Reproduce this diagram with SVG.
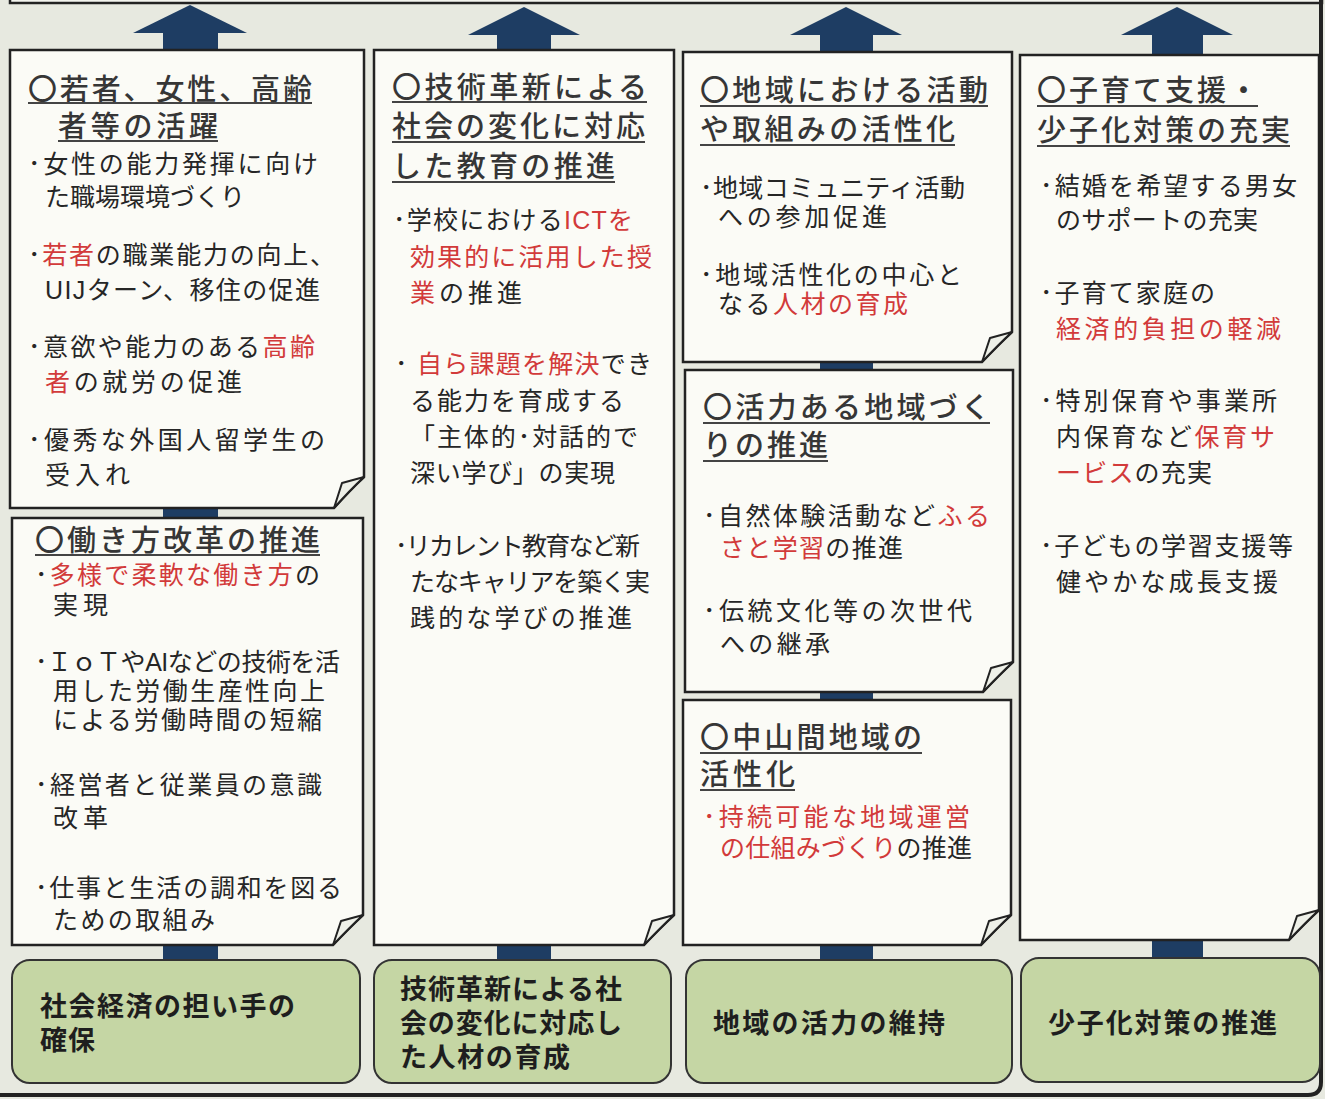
<svg xmlns="http://www.w3.org/2000/svg" width="1325" height="1099" viewBox="0 0 1325 1099">
<style>
.bg{fill:#e7e9e0}
.card{fill:#fbfbf6;stroke:#222;stroke-width:2.5;stroke-linejoin:miter}
.fold{fill:#eef0e8;stroke:#222;stroke-width:2;stroke-linejoin:round}
.green{fill:#c5d6a4;stroke:#333;stroke-width:2}
.shaft{fill:#1e3d63}
.t{font-family:"Liberation Sans","Noto Sans CJK JP",sans-serif;font-size:29px;font-weight:500;fill:#363636}
.b{font-family:"Liberation Sans","Noto Sans CJK JP",sans-serif;font-size:25px;fill:#262626}
.g{font-family:"Liberation Sans","Noto Sans CJK JP",sans-serif;font-size:27px;font-weight:700;fill:#1e1e1e}
.r{fill:#d23a3a}
.ul{stroke:#444;stroke-width:1.8}
.frame{fill:none;stroke:#222;stroke-width:4}
</style>
<rect class="bg" x="0" y="0" width="1325" height="1099"/>
<rect x="10" y="-20" width="1312" height="23" fill="#f3f4ee" stroke="#222" stroke-width="2.5"/>
<path class="frame" d="M0 1095 H1308 Q1321 1095 1321 1082 V0"/>

<g id="connectors">
  <rect class="shaft" x="163" y="30" width="55" height="932"/>
  <polygon class="shaft" points="190,5 247,33 133,33"/>
  <rect class="shaft" x="497" y="30" width="54" height="932"/>
  <polygon class="shaft" points="524,7 580,35 468,35"/>
  <rect class="shaft" x="820" y="30" width="53" height="932"/>
  <polygon class="shaft" points="846,7 902,35 790,35"/>
  <rect class="shaft" x="1152" y="30" width="51" height="932"/>
  <polygon class="shaft" points="1177,7 1233,35 1121,35"/>
</g>

<g id="card-1a">
  <path class="card" d="M10 50 H364 V477 Q350 490 334 508 H10 Z"/>
  <path class="fold" d="M364 477 L342 483 L334 508 Q350 490 364 477 Z"/>
  <text class="t"><tspan x="28" y="100" textLength="284">〇若者、女性、高齢</tspan><tspan x="58" y="137" textLength="160">者等の活躍</tspan></text>
  <line class="ul" x1="28" y1="103" x2="312" y2="103"/>
  <line class="ul" x1="58" y1="141" x2="218" y2="141"/>
  <text class="b"><tspan x="28" y="173" textLength="290">･女性の能力発揮に向け</tspan><tspan x="45" y="206" textLength="200">た職場環境づくり</tspan></text>
  <text class="b"><tspan x="28" y="264" textLength="307">･<tspan class="r">若者</tspan>の職業能力の向上、</tspan><tspan x="45" y="299" textLength="275">UIJターン、移住の促進</tspan></text>
  <text class="b"><tspan x="28" y="356" textLength="287">･意欲や能力のある<tspan class="r">高齢</tspan></tspan><tspan x="45" y="391" textLength="197"><tspan class="r">者</tspan>の就労の促進</tspan></text>
  <text class="b"><tspan x="28" y="449" textLength="297">･優秀な外国人留学生の</tspan><tspan x="45" y="484" textLength="85">受入れ</tspan></text>
</g>

<g id="card-1b">
  <path class="card" d="M12 518 H363 V915 Q349 928 333 945 H12 Z"/>
  <path class="fold" d="M363 915 L341 921 L333 945 Q349 928 363 915 Z"/>
  <text class="t" x="35" y="551" textLength="285">〇働き方改革の推進</text>
  <line class="ul" x1="35" y1="555" x2="320" y2="555"/>
  <text class="b"><tspan x="35" y="584" textLength="285">･<tspan class="r">多様で柔軟な働き方</tspan>の</tspan><tspan x="53" y="614" textLength="55">実現</tspan></text>
  <text class="b"><tspan x="35" y="671" textLength="305">･ＩｏＴやAIなどの技術を活</tspan><tspan x="53" y="700" textLength="272">用した労働生産性向上</tspan><tspan x="53" y="729" textLength="269">による労働時間の短縮</tspan></text>
  <text class="b"><tspan x="35" y="794" textLength="287">･経営者と従業員の意識</tspan><tspan x="53" y="827" textLength="55">改革</tspan></text>
  <text class="b"><tspan x="35" y="897" textLength="307">･仕事と生活の調和を図る</tspan><tspan x="53" y="929" textLength="162">ための取組み</tspan></text>
</g>

<g id="card-2">
  <path class="card" d="M374 50 H674 V915 Q660 928 644 945 H374 Z"/>
  <path class="fold" d="M674 915 L652 921 L644 945 Q660 928 674 915 Z"/>
  <text class="t"><tspan x="392" y="98" textLength="255">〇技術革新による</tspan><tspan x="392" y="137" textLength="253">社会の変化に対応</tspan><tspan x="392" y="177" textLength="223">した教育の推進</tspan></text>
  <line class="ul" x1="392" y1="102" x2="647" y2="102"/>
  <line class="ul" x1="392" y1="142" x2="645" y2="142"/>
  <line class="ul" x1="392" y1="182" x2="615" y2="182"/>
  <text class="b"><tspan x="393" y="229" textLength="240">･学校における<tspan class="r">ICTを</tspan></tspan><tspan class="r" x="410" y="266" textLength="242">効果的に活用した授</tspan><tspan x="410" y="302" textLength="112"><tspan class="r">業</tspan>の推進</tspan></text>
  <text class="b"><tspan x="395" y="373" textLength="257">･ <tspan class="r">自ら課題を解決</tspan>でき</tspan><tspan x="410" y="410" textLength="214">る能力を育成する</tspan><tspan x="410" y="446" textLength="228">「主体的･対話的で</tspan><tspan x="410" y="482" textLength="205">深い学び」の実現</tspan></text>
  <text class="b"><tspan x="395" y="555" textLength="245">･リカレント教育など新</tspan><tspan x="410" y="591" textLength="240">たなキャリアを築く実</tspan><tspan x="410" y="627" textLength="222">践的な学びの推進</tspan></text>
</g>

<g id="card-3a">
  <path class="card" d="M683 52 H1012 V332 Q998 345 982 362 H683 Z"/>
  <path class="fold" d="M1012 332 L990 338 L982 362 Q998 345 1012 332 Z"/>
  <text class="t"><tspan x="700" y="101" textLength="288">〇地域における活動</tspan><tspan x="700" y="140" textLength="255">や取組みの活性化</tspan></text>
  <line class="ul" x1="700" y1="106" x2="988" y2="106"/>
  <line class="ul" x1="700" y1="145" x2="955" y2="145"/>
  <text class="b"><tspan x="700" y="197" textLength="265">･地域コミュニティ活動</tspan><tspan x="718" y="226" textLength="169">への参加促進</tspan></text>
  <text class="b"><tspan x="700" y="284" textLength="262">･地域活性化の中心と</tspan><tspan x="718" y="313" textLength="190">なる<tspan class="r">人材の育成</tspan></tspan></text>
</g>

<g id="card-3b">
  <path class="card" d="M685 370 H1013 V662 Q999 675 983 692 H685 Z"/>
  <path class="fold" d="M1013 662 L991 668 L983 692 Q999 675 1013 662 Z"/>
  <text class="t"><tspan x="703" y="418" textLength="287">〇活力ある地域づく</tspan><tspan x="703" y="456" textLength="125">りの推進</tspan></text>
  <line class="ul" x1="703" y1="423" x2="990" y2="423"/>
  <line class="ul" x1="703" y1="461" x2="828" y2="461"/>
  <text class="b"><tspan x="703" y="525" textLength="287">･自然体験活動など<tspan class="r">ふる</tspan></tspan><tspan x="720" y="557" textLength="183"><tspan class="r">さと学習</tspan>の推進</tspan></text>
  <text class="b"><tspan x="703" y="620" textLength="269">･伝統文化等の次世代</tspan><tspan x="720" y="653" textLength="110">への継承</tspan></text>
</g>

<g id="card-3c">
  <path class="card" d="M683 700 H1011 V915 Q997 928 981 945 H683 Z"/>
  <path class="fold" d="M1011 915 L989 921 L981 945 Q997 928 1011 915 Z"/>
  <text class="t"><tspan x="700" y="748" textLength="222">〇中山間地域の</tspan><tspan x="700" y="785" textLength="95">活性化</tspan></text>
  <line class="ul" x1="700" y1="753" x2="922" y2="753"/>
  <line class="ul" x1="700" y1="790" x2="795" y2="790"/>
  <text class="b"><tspan class="r" x="703" y="826" textLength="267">･持続可能な地域運営</tspan><tspan x="720" y="857" textLength="252"><tspan class="r">の仕組みづくり</tspan>の推進</tspan></text>
</g>

<g id="card-4">
  <path class="card" d="M1020 55 H1319 V910 Q1305 923 1289 940 H1020 Z"/>
  <path class="fold" d="M1319 910 L1297 916 L1289 940 Q1305 923 1319 910 Z"/>
  <text class="t"><tspan x="1037" y="101" textLength="221">〇子育て支援・</tspan><tspan x="1037" y="141" textLength="253">少子化対策の充実</tspan></text>
  <line class="ul" x1="1037" y1="106" x2="1258" y2="106"/>
  <line class="ul" x1="1037" y1="146" x2="1290" y2="146"/>
  <text class="b"><tspan x="1040" y="195" textLength="257">･結婚を希望する男女</tspan><tspan x="1056" y="229" textLength="202">のサポートの充実</tspan></text>
  <text class="b"><tspan x="1040" y="302" textLength="175">･子育て家庭の</tspan><tspan class="r" x="1056" y="338" textLength="225">経済的負担の軽減</tspan></text>
  <text class="b"><tspan x="1040" y="410" textLength="237">･特別保育や事業所</tspan><tspan x="1056" y="446" textLength="219">内保育など<tspan class="r">保育サ</tspan></tspan><tspan x="1056" y="482" textLength="156"><tspan class="r">ービス</tspan>の充実</tspan></text>
  <text class="b"><tspan x="1040" y="555" textLength="253">･子どもの学習支援等</tspan><tspan x="1056" y="591" textLength="222">健やかな成長支援</tspan></text>
</g>

<g id="goal-1">
  <rect class="green" x="12" y="960" width="348" height="123" rx="18"/>
  <text class="g"><tspan x="40" y="1016" textLength="255">社会経済の担い手の</tspan><tspan x="40" y="1050" textLength="55">確保</tspan></text>
</g>
<g id="goal-2">
  <rect class="green" x="374" y="960" width="297" height="123" rx="18"/>
  <text class="g"><tspan x="400" y="999" textLength="222">技術革新による社</tspan><tspan x="400" y="1033" textLength="222">会の変化に対応し</tspan><tspan x="400" y="1067" textLength="170">た人材の育成</tspan></text>
</g>
<g id="goal-3">
  <rect class="green" x="686" y="960" width="326" height="123" rx="18"/>
  <text class="g" x="713" y="1033" textLength="232">地域の活力の維持</text>
</g>
<g id="goal-4">
  <rect class="green" x="1021" y="958" width="299" height="124" rx="18"/>
  <text class="g" x="1048" y="1033" textLength="229">少子化対策の推進</text>
</g>
</svg>
